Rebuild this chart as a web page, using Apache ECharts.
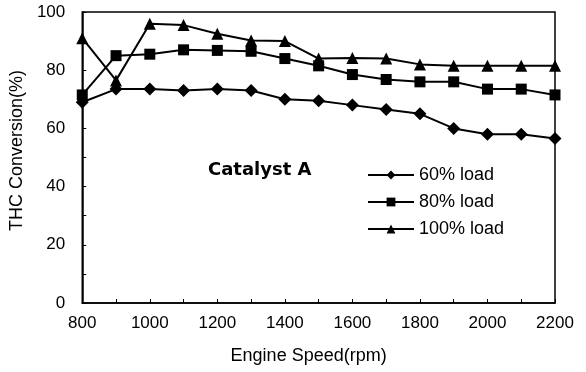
<!DOCTYPE html>
<html><head><meta charset="utf-8">
<script src="https://cdn.jsdelivr.net/npm/echarts@6/dist/echarts.min.js"></script>
<style>html,body{margin:0;padding:0;background:#fff}#c{width:586px;height:372px}</style>
</head><body><div id="c"></div>
<script>
const speeds = [800,900,1000,1100,1200,1300,1400,1500,1600,1700,1800,1900,2000,2100,2200];
const load60 = [69,73.5,73.5,73,73.5,73,70,69.5,68,66.5,65,60,58,58,56.5];
const load80 = [71.5,85,85.5,87,86.8,86.5,84,81.5,78.5,76.8,76,76,73.5,73.5,71.5];
const load100 = [91,76.5,96,95.5,92.5,90.2,90,84,84.2,84,82,81.5,81.5,81.5,81.5];
const seriesNames = ['60% load','80% load','100% load'];
const xTicks = [800,1000,1200,1400,1600,1800,2000,2200];
const yTicks = [0,20,40,60,80,100];

const font = 'Liberation Sans';
function pairs(vals){ return speeds.map((s,i)=>[s, vals[i]]); }
const chart = echarts.init(document.getElementById('c'), null, {renderer:'canvas'});
const mk = (name, vals, sym, size) => ({
  name, type:'line', data:pairs(vals), symbol:sym, symbolSize:size,
  lineStyle:{color:'#000', width:2}, itemStyle:{color:'#000'}, animation:false
});
chart.setOption({
  backgroundColor:'#fff',
  animation:false,
  grid:{left:81, right:31, top:12, bottom:69, show:true, borderColor:'#000', borderWidth:1.5},
  xAxis:{type:'value', min:800, max:2200, interval:100,
    name:'Engine Speed(rpm)', nameLocation:'middle', nameGap:44,
    nameTextStyle:{fontFamily:font, fontSize:18, color:'#000', padding:[0,20,0,0]},
    axisLine:{lineStyle:{color:'#000', width:1.5}},
    axisTick:{inside:true, length:4, lineStyle:{color:'#000'}},
    axisLabel:{fontFamily:font, fontSize:17, color:'#000', margin:12,
      formatter:v=> xTicks.includes(v) ? String(v) : ''},
    splitLine:{show:false}},
  yAxis:{type:'value', min:0, max:100, interval:10,
    name:'THC Conversion(%)', nameLocation:'middle', nameGap:47, nameRotate:90,
    nameTextStyle:{fontFamily:font, fontSize:18, color:'#000', padding:[0,0,0,14]},
    axisLine:{lineStyle:{color:'#000', width:1.5}},
    axisTick:{inside:true, length:4, lineStyle:{color:'#000'}},
    axisLabel:{fontFamily:font, fontSize:17, color:'#000', margin:17,
      formatter:v=> yTicks.includes(v) ? String(v) : ''},
    splitLine:{show:false}},
  legend:{orient:'vertical', left:362, top:161, itemWidth:46, itemHeight:11, itemGap:9,
    data:seriesNames,
    textStyle:{fontFamily:font, fontSize:18, color:'#000', padding:[0,0,0,0]}},
  graphic:[{type:'text', left:208, top:161,
    style:{text:'Catalyst A', fontFamily:'DejaVu Sans', fontWeight:'bold', fontSize:18, fill:'#000'}}],
  series:[
    mk(seriesNames[0], load60, 'diamond', 13),
    mk(seriesNames[1], load80, 'rect', 11),
    mk(seriesNames[2], load100, 'triangle', 12)
  ]
});
</script></body></html>
